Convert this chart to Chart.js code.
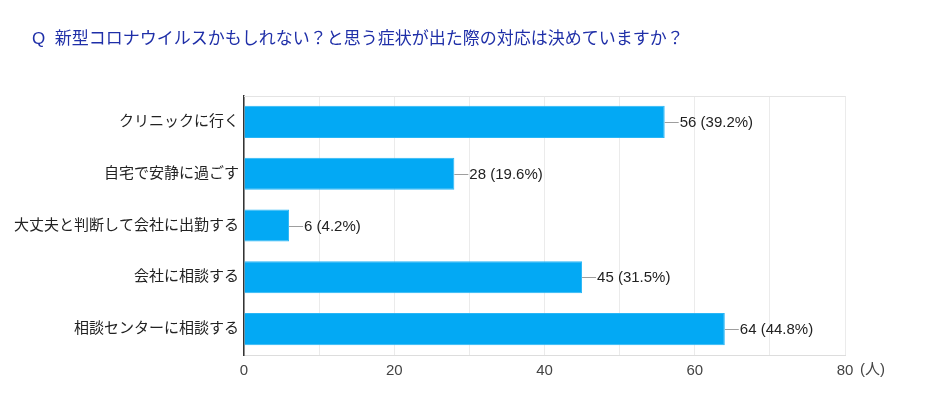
<!DOCTYPE html>
<html lang="ja">
<head>
<meta charset="utf-8">
<script src="https://cdn.jsdelivr.net/npm/chart.js@4"></script>
<style>
  html, body { margin: 0; padding: 0; background: #fff; }
  #wrap { width: 940px; height: 399px; position: relative; }
</style>
</head>
<body>
<div id="wrap"><canvas id="chart"></canvas></div>
<script>
const titleText = 'Q  新型コロナウイルスかもしれない？と思う症状が出た際の対応は決めていますか？';
const categories = ['クリニックに行く', '自宅で安静に過ごす', '大丈夫と判断して会社に出勤する', '会社に相談する', '相談センターに相談する'];
const counts = [56, 28, 6, 45, 64];
const percents = ['39.2', '19.6', '4.2', '31.5', '44.8'];
const unitLabel = '(人)';

const FONT = "'Liberation Sans', 'Noto Sans CJK JP', sans-serif";

// title, frame, leader lines + value labels, unit label
const decorations = {
  id: 'decorations',
  beforeDatasetsDraw(chart) {
    const { ctx, chartArea: a } = chart;
    ctx.save();
    ctx.strokeStyle = '#e4e4e4';
    ctx.lineWidth = 1;
    ctx.beginPath();
    ctx.moveTo(a.left, a.top + 0.5);
    ctx.lineTo(a.right + 0.5, a.top + 0.5);
    ctx.stroke();
    ctx.restore();
  },
  afterDraw(chart) {
    const { ctx } = chart;
    ctx.save();
    ctx.font = '17px ' + FONT;
    ctx.fillStyle = '#1f2fa8';
    ctx.textBaseline = 'alphabetic';
    ctx.textAlign = 'left';
    ctx.fillText(titleText, 32, 44);

    const meta = chart.getDatasetMeta(0);
    ctx.font = '15px ' + FONT;
    ctx.textBaseline = 'middle';
    meta.data.forEach((bar, i) => {
      const x = bar.x, y = bar.y;
      ctx.strokeStyle = '#9e9e9e';
      ctx.lineWidth = 1;
      ctx.beginPath();
      ctx.moveTo(x, Math.round(y) + 0.5);
      ctx.lineTo(x + 14, Math.round(y) + 0.5);
      ctx.stroke();
      ctx.fillStyle = '#222';
      ctx.fillText(counts[i] + ' (' + percents[i] + '%)', x + 15, y + 1);
    });

    const xs = chart.scales.x;
    ctx.fillStyle = '#444';
    ctx.textBaseline = 'middle';
    ctx.fillText(unitLabel, xs.getPixelForValue(80) + 15, 370);
    ctx.restore();
  }
};

new Chart(document.getElementById('chart'), {
  type: 'bar',
  data: {
    labels: categories,
    datasets: [{
      data: counts,
      backgroundColor: '#03a9f4',
      borderColor: '#29b6f6',
      borderWidth: 1,
      categoryPercentage: 0.62,
      barPercentage: 1
    }]
  },
  options: {
    indexAxis: 'y',
    responsive: true,
    maintainAspectRatio: false,
    animation: false,
    layout: { padding: { top: 96, right: 95, left: 0, bottom: 0 } },
    plugins: {
      legend: { display: false },
      title: { display: false },
      tooltip: { enabled: false }
    },
    scales: {
      x: {
        min: 0,
        max: 80,
        afterFit(s) { s.height = 44; },
        ticks: {
          stepSize: 10,
          padding: 7,
          color: '#444',
          font: { size: 15, family: FONT },
          callback: v => (v % 20 === 0 ? String(v) : '')
        },
        grid: { color: '#ebebeb', drawTicks: false },
        border: { color: '#dddddd' }
      },
      y: {
        afterFit(s) { s.width = 244; },
        ticks: {
          padding: 5,
          color: '#222',
          font: { size: 15, family: FONT }
        },
        grid: { display: false, drawTicks: false },
        border: { display: true, color: '#333', width: 1.5 }
      }
    }
  },
  plugins: [decorations]
});
</script>
</body>
</html>
